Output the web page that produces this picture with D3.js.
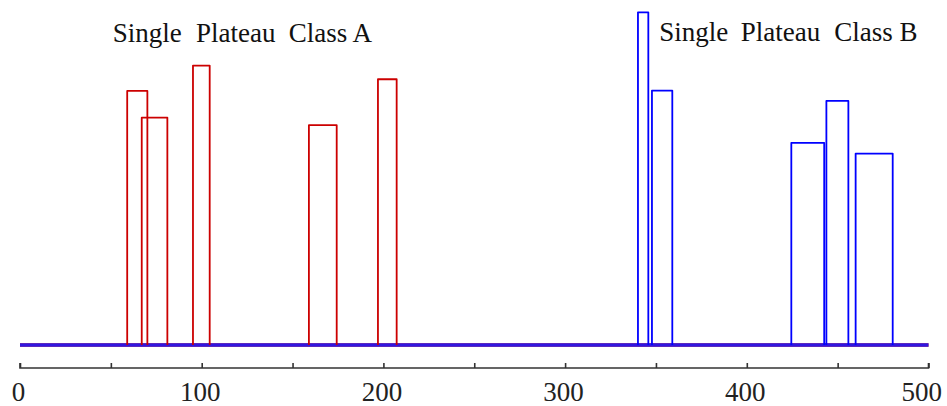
<!DOCTYPE html>
<html>
<head>
<meta charset="utf-8">
<script src="https://d3js.org/d3.v7.min.js"></script>
<style>
html,body{margin:0;padding:0;background:#fff;}
svg{display:block;}
</style>
</head>
<body>
<svg id="chart" width="947" height="406"></svg>
<script>
// ---- data ----
const xDomain = [0, 500];
const tickValues = [0, 50, 100, 150, 200, 250, 300, 350, 400, 450, 500];
const tickLabels = [0, 100, 200, 300, 400, 500];

const redStarts  = [59.0, 67.0, 95.2, 159.0, 197.0];
const redEnds    = [70.1, 81.1, 104.4, 174.3, 207.3];
const redHeights = [0.763, 0.683, 0.839, 0.660, 0.798];

const blueStarts  = [340.1, 347.8, 424.5, 443.8, 459.9];
const blueEnds    = [345.8, 359.0, 442.6, 455.9, 480.3];
const blueHeights = [0.999, 0.764, 0.607, 0.733, 0.575];

const titleA = ["Single", "Plateau", "Class A"];
const titleB = ["Single", "Plateau", "Class B"];

// ---- drawing ----
const W = 947;
const FONT = '"Liberation Serif"';
const svg = d3.select("#chart");
const x = d3.scaleLinear().domain(xDomain).range([20, 928.5]);
const y = d3.scaleLinear().domain([0, 1]).range([345, 12]);
const line = d3.line().x(d => x(d[0])).y(d => y(d[1]));

function pulses(starts, ends, heights) {
  return starts.map((s, i) => [[s, 0], [s, heights[i]], [ends[i], heights[i]], [ends[i], 0]]);
}

// baseline bands
svg.append("path").attr("d", line([[xDomain[0], 0], [xDomain[1], 0]]))
  .attr("fill", "none").attr("stroke", "#cc0000").attr("stroke-width", 3.5);
svg.append("path").attr("d", line([[xDomain[0], 0], [xDomain[1], 0]]))
  .attr("fill", "none").attr("stroke", "#1a1aff").attr("stroke-width", 3.5)
  .attr("stroke-opacity", 0.88);

svg.append("g").selectAll("path").data(pulses(redStarts, redEnds, redHeights)).join("path")
  .attr("d", line).attr("fill", "none").attr("stroke", "#cc0000").attr("stroke-width", 1.8)
  .attr("stroke-linejoin", "round");
svg.append("g").selectAll("path").data(pulses(blueStarts, blueEnds, blueHeights)).join("path")
  .attr("d", line).attr("fill", "none").attr("stroke", "#0000ff").attr("stroke-width", 1.8)
  .attr("stroke-linejoin", "round");

// axis
const axisY = 368;
const ax = svg.append("g").attr("transform", `translate(0,${axisY})`)
  .call(d3.axisTop(x).tickValues(tickValues).tickSize(5).tickFormat(""));
ax.selectAll("path,line").attr("stroke", "#333").attr("stroke-width", 1.6);
ax.select(".domain").attr("d", `M${x(0)},-5V0H${x(500)}V-5`);

const lastLabel = tickLabels[tickLabels.length - 1];
svg.append("g").selectAll("text").data(tickLabels).join("text")
  .attr("x", d => d === lastLabel ? W - 5 : x(d) - 1.5).attr("y", 401)
  .attr("text-anchor", d => d === lastLabel ? "end" : "middle")
  .style("font-family", FONT)
  .style("font-size", "27px").attr("fill", "#222")
  .text(d => d);

// titles
function title(words, xs, yb) {
  svg.append("g").selectAll("text").data(words).join("text")
    .attr("x", (d, i) => xs[i]).attr("y", yb)
    .style("font-family", FONT)
    .style("font-size", "27px").attr("fill", "#111")
    .text(d => d);
}
title(titleA, [112.7, 196, 288.7], 41.7);
title(titleB, [659.3, 740.7, 834.3], 40.7);
</script>
</body>
</html>
